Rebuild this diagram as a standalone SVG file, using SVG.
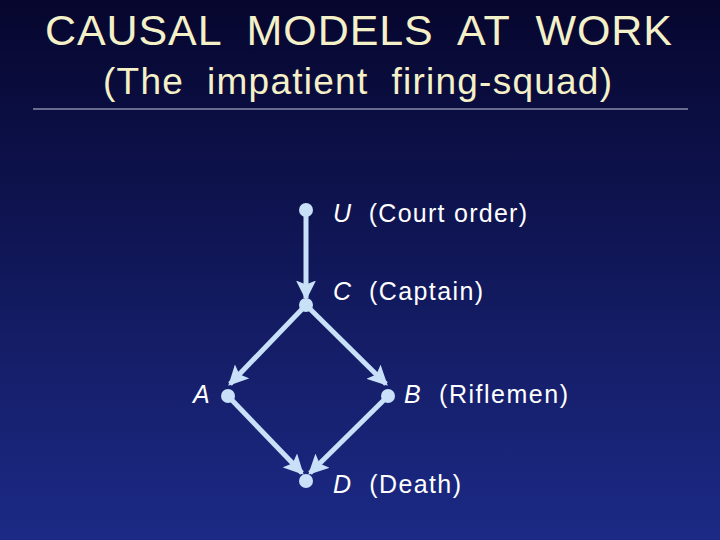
<svg xmlns="http://www.w3.org/2000/svg" width="720" height="540" viewBox="0 0 720 540" xml:space="preserve">
<defs>
<linearGradient id="bg" x1="0" y1="0" x2="0" y2="1"><stop offset="0" stop-color="#06062e"/><stop offset="1" stop-color="#1c2a86"/></linearGradient>
<marker id="ah" markerWidth="4" markerHeight="4" refX="3.5" refY="2" orient="auto" markerUnits="strokeWidth"><path d="M0,0 L4,2 L0,4 L0.8,2 Z" fill="#c8e0f8"/></marker>
<style>
text{white-space:pre}
.t{font-family:"Liberation Sans",Arial,sans-serif;fill:#f4f0c8}
.l{font-family:"Liberation Sans",Arial,sans-serif;fill:#ffffff;font-size:25px}
.n{fill:#c8e0f8}
.e{stroke:#c8e0f8;stroke-width:5;fill:none;marker-end:url(#ah)}
</style>
</defs>
<rect width="720" height="540" fill="url(#bg)"/>
<text class="t" x="45" y="45" font-size="43" textLength="627" lengthAdjust="spacing">CAUSAL  MODELS  AT  WORK</text>
<text class="t" x="103" y="94" font-size="37" textLength="509" lengthAdjust="spacing">(The  impatient  firing-squad)</text>
<line x1="33" y1="109" x2="688" y2="109" stroke="#c8c8d8" stroke-width="1"/>
<g id="edges">
<line class="e" x1="306" y1="212" x2="306" y2="298"/>
<line class="e" x1="306" y1="305" x2="230" y2="384"/>
<line class="e" x1="306" y1="305" x2="386" y2="384"/>
<line class="e" x1="228" y1="396" x2="302" y2="473"/>
<line class="e" x1="388" y1="396" x2="310" y2="473"/>
</g>
<g id="U"><circle class="n" cx="306" cy="210" r="7"/><text class="l" x="333" y="222" textLength="194" lengthAdjust="spacing"><tspan font-style="italic">U</tspan>  (Court order)</text></g>
<g id="C"><circle class="n" cx="306" cy="305" r="7"/><text class="l" x="333" y="300" textLength="150" lengthAdjust="spacing"><tspan font-style="italic">C</tspan>  (Captain)</text></g>
<g id="A"><circle class="n" cx="228" cy="396" r="7"/><text class="l" x="193" y="403"><tspan font-style="italic">A</tspan></text></g>
<g id="B"><circle class="n" cx="388" cy="396" r="7"/><text class="l" x="404" y="403" textLength="164" lengthAdjust="spacing"><tspan font-style="italic">B</tspan>  (Riflemen)</text></g>
<g id="D"><circle class="n" cx="306" cy="481" r="7"/><text class="l" x="333" y="493" textLength="128" lengthAdjust="spacing"><tspan font-style="italic">D</tspan>  (Death)</text></g>
</svg>
